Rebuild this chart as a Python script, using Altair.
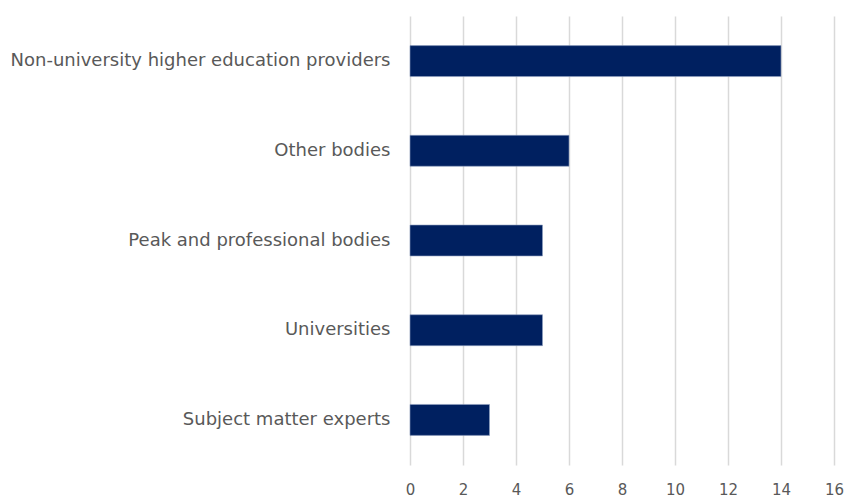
import altair as alt
import pandas as pd

categories = [
    "Non-university higher education providers",
    "Other bodies",
    "Peak and professional bodies",
    "Universities",
    "Subject matter experts",
]
values = [14, 6, 5, 5, 3]
x_ticks = [0, 2, 4, 6, 8, 10, 12, 14, 16]

df = pd.DataFrame({"category": categories, "value": values})

chart = alt.Chart(df).mark_bar(color="#002060", stroke="#8ea0c0", strokeWidth=0.6).encode(
    x=alt.X("value:Q", scale=alt.Scale(domain=[0, 16], nice=False),
            axis=alt.Axis(values=x_ticks, title=None, domain=False, ticks=False,
                          grid=True, gridColor="#d9d9d9", gridWidth=1.5,
                          labelFont="DejaVu Sans", labelFontSize=15, labelColor="#595959",
                          labelPadding=17, labelFlush=False)),
    y=alt.Y("category:N", sort=categories,
            scale=alt.Scale(paddingInner=0.655, paddingOuter=0.33),
            axis=alt.Axis(title=None, domain=False, ticks=False, grid=False,
                          labelFont="DejaVu Sans", labelFontSize=18, labelColor="#595959",
                          labelPadding=20, labelLimit=500)),
).properties(
    width=424, height=449,
    autosize=alt.AutoSizeParams(type="none"),
    padding={"left": 402, "top": 8, "right": 13, "bottom": 33},
).configure_view(stroke=None)

chart.save("out.html", embed_options={"renderer": "svg", "actions": False})
